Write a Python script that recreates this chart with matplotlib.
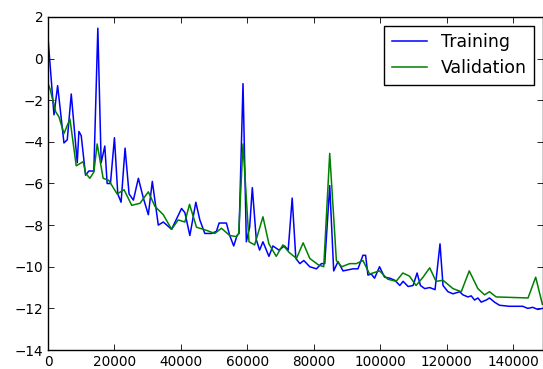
import numpy as np
import matplotlib
matplotlib.use("Agg")
import matplotlib.pyplot as plt

# training curve (step, loss)
train_steps = [0, 1800, 2900, 4800, 5800, 7000, 8800, 9300, 10000, 11300, 12300, 13800,
               15000, 16000, 17100, 17800, 18800, 20000, 21000, 22000, 23200, 24400, 25700,
               27200, 28700, 30200, 31400, 33200, 34700, 37200, 40200, 41200, 42700, 44500,
               45700, 47200, 49200, 50700, 51500, 53700, 54700, 55900, 56900, 57500, 58700,
               59700, 60700, 61500, 62700, 63700, 64700, 66500, 67700, 69500, 71200, 72300,
               73500, 74600, 75800, 77000, 78800, 80800, 82300, 83300, 84800, 86000, 87300,
               88800, 90300, 91800, 93300, 94800, 95600, 96300, 97300, 98300, 99800, 101300,
               102900, 104400, 105900, 106900, 108400, 109900, 111100, 112100, 113400, 114900,
               116500, 118000, 118900, 120400, 121900, 123900, 124900, 126400, 127400, 128400,
               129400, 130400, 131900, 132900, 134400, 135900, 138900, 142900, 144400, 145900,
               147400, 148900]
train_loss = [1.0, -2.7, -1.3, -4.05, -3.9, -1.7, -5.0, -3.5, -3.7, -5.6, -5.4, -5.4,
              1.46, -5.0, -4.2, -6.0, -6.0, -3.8, -6.5, -6.9, -4.3, -6.5, -6.8,
              -5.75, -6.7, -7.5, -5.9, -8.0, -7.85, -8.2, -7.2, -7.4, -8.5, -6.9,
              -7.75, -8.4, -8.4, -8.3, -7.9, -7.9, -8.5, -9.0, -8.5, -8.4, -1.2,
              -8.8, -8.1, -6.2, -8.7, -9.2, -8.8, -9.5, -9.0, -9.2, -9.0, -9.2,
              -6.7, -9.6, -9.85, -9.7, -10.0, -10.1, -9.85, -9.85, -6.1, -10.2, -9.75,
              -10.2, -10.15, -10.1, -10.1, -9.45, -9.45, -10.4, -10.35, -10.55, -10.0, -10.5,
              -10.55, -10.65, -10.9, -10.7, -10.95, -10.9, -10.3, -10.9, -11.05, -11.0,
              -11.1, -8.9, -10.9, -11.2, -11.3, -11.2, -11.35, -11.45, -11.4, -11.6,
              -11.5, -11.7, -11.6, -11.5, -11.7, -11.85, -11.9, -11.9, -12.0, -11.95,
              -12.05, -12.0]

# validation curve
val_steps = [0, 600, 2300, 3300, 4800, 6600, 8500, 10600, 11300, 12600, 13800, 14800,
             16600, 18300, 20800, 22900, 25200, 27700, 30200, 32200, 34700, 37200, 39200,
             41200, 42600, 44700, 47700, 50200, 52200, 54700, 56700, 57400, 58700, 60500,
             62200, 64700, 66500, 68700, 70700, 72500, 74800, 76800, 78800, 81300, 83000,
             84800, 86800, 88400, 90800, 92800, 94800, 96800, 99800, 102300, 104800, 106800,
             108800, 110800, 112900, 114900, 116800, 118900, 121900, 124400, 126800, 129400,
             131400, 132900, 134900, 144500, 146800, 148800]
val_loss = [-1.2, -1.45, -2.55, -2.8, -3.6, -2.9, -5.15, -4.95, -5.5, -5.75, -5.45, -4.1,
            -5.75, -5.85, -6.5, -6.3, -7.05, -6.95, -6.4, -7.1, -7.5, -8.2, -7.75,
            -7.85, -7.0, -8.1, -8.25, -8.4, -8.15, -8.5, -8.55, -8.4, -4.1, -8.8,
            -8.95, -7.6, -8.9, -9.5, -8.95, -9.3, -9.6, -8.85, -9.6, -9.9, -10.0,
            -4.55, -9.7, -10.0, -9.85, -9.85, -9.7, -10.35, -10.2, -10.6, -10.7, -10.3,
            -10.45, -10.9, -10.5, -10.05, -10.7, -10.65, -11.05, -11.2, -10.2, -11.05,
            -11.35, -11.2, -11.45, -11.5, -10.5, -11.8]

xticks = [0, 20000, 40000, 60000, 80000, 100000, 120000, 140000]
yticks = [-14, -12, -10, -8, -6, -4, -2, 0, 2]

fig = plt.figure(figsize=(5.43, 3.69), dpi=100)
ax = fig.add_axes([48 / 543, 19 / 369, 495 / 543, 333 / 369])

ax.plot(train_steps, train_loss, color="b", lw=1.1, label="Training")
ax.plot(val_steps, val_loss, color="g", lw=1.1, label="Validation")

ax.set_xlim(0, 149000)
ax.set_ylim(-14, 2)
ax.set_xticks(xticks)
ax.set_yticks(yticks)
ax.tick_params(direction="in", length=4, width=0.6, top=True, right=True,
               labelsize=9.8, colors="black")
for s in ax.spines.values():
    s.set_linewidth(1.0)

leg = ax.legend(loc="upper right", fontsize=12.5, fancybox=False, framealpha=1,
                edgecolor="black", handlelength=2.0, borderaxespad=0.5,
                borderpad=0.45, labelspacing=0.45)
leg.get_frame().set_linewidth(1.0)

fig.savefig("out.png", dpi=100)
